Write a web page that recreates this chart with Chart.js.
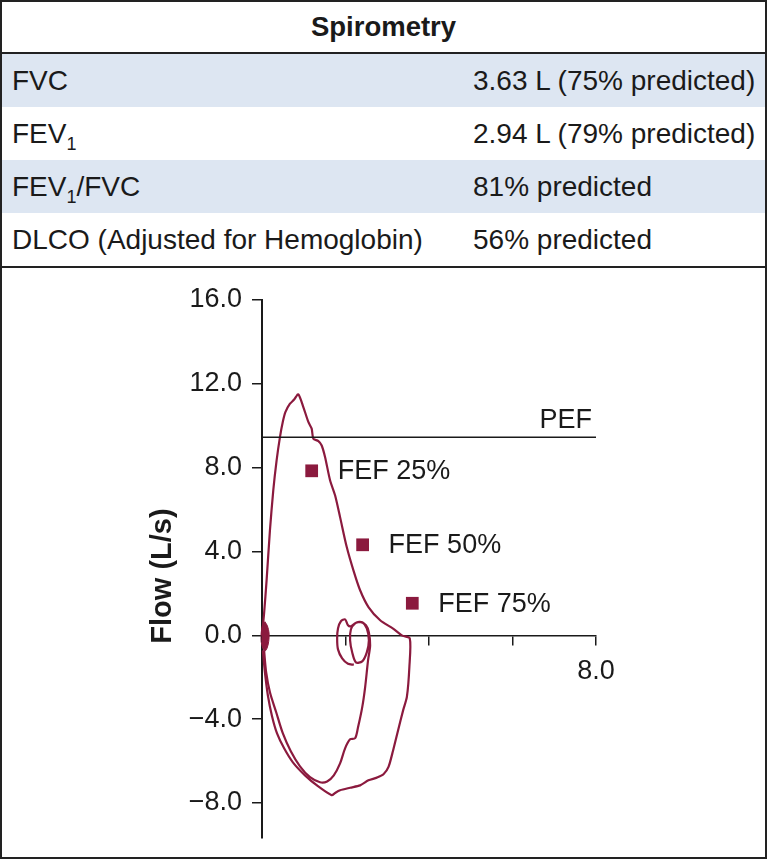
<!DOCTYPE html>
<html>
<head>
<meta charset="utf-8">
<script src="https://cdn.jsdelivr.net/npm/chart.js@4/dist/chart.umd.min.js"></script>
<style>
html,body{margin:0;padding:0;background:#fff;}
#frame{position:relative;width:767px;height:859px;box-sizing:border-box;border:2px solid #222;font-family:"Liberation Sans",Arial,Helvetica,sans-serif;color:#1a1a1a;overflow:hidden;background:#fff;}
.hdr{position:absolute;left:0;top:0;width:763px;height:50px;border-bottom:2px solid #222;text-align:center;font-weight:bold;font-size:27.5px;line-height:50px;}
.row{position:absolute;left:0;width:763px;height:53px;font-size:28px;line-height:53px;white-space:nowrap;}
.row.alt{background:#dde6f2;}
.c1{position:absolute;left:10px;top:0;}
.c2{position:absolute;left:471px;top:0;}
sub{font-size:18px;line-height:0;vertical-align:-7px;}
#tblEnd{position:absolute;left:0;top:264px;width:763px;height:2px;background:#222;}
#chartBox{position:absolute;left:0;top:266px;width:763px;height:589px;}
</style>
</head>
<body>
<div id="frame">
  <div class="hdr" id="hdr"></div>
  <div id="rows"></div>
  <div id="tblEnd"></div>
  <div id="chartBox"><canvas id="c" width="763" height="589"></canvas></div>
</div>
<script>
// ---------- table data ----------
const tableTitle = 'Spirometry';
const rowLabels = ['FVC', 'FEV<sub>1</sub>', 'FEV<sub>1</sub>/FVC', 'DLCO (Adjusted for Hemoglobin)'];
const rowValues = ['3.63 L (75% predicted)', '2.94 L (79% predicted)', '81% predicted', '56% predicted'];

// ---------- chart data ----------
const yTitle = 'Flow (L/s)';
const yTicks = [-8, -4, 0, 4, 8, 12, 16];
const xTicks = [0, 2, 4, 6, 8];
const xLabelled = [8];

const pefLabel = 'PEF';
const pefFlow = 9.45;

const fefNames = ['FEF 25%', 'FEF 50%', 'FEF 75%'];
const fefVolume = [1.19, 2.41, 3.60];
const fefFlow = [7.85, 4.32, 1.53];

// forced expiration followed by the outer inspiratory limb (volume L, flow L/s)
const loopVolume = [0.00, 0.05, 0.11, 0.19, 0.27, 0.35, 0.43, 0.50, 0.56, 0.67, 0.77, 0.87,
  0.99, 1.11, 1.19, 1.23, 1.35, 1.43, 1.51, 1.63, 1.75, 1.87, 2.03, 2.19, 2.35, 2.55, 2.83, 3.14, 3.35, 3.54,
  3.53, 3.47, 3.38, 3.26, 3.14, 3.03, 2.91, 2.75, 2.55, 2.35, 2.11, 1.87, 1.75, 1.67,
  1.34, 1.03, 0.74, 0.53, 0.36, 0.24, 0.14, 0.07, 0.02];
const loopFlow = [0.00, 1.05, 2.62, 5.01, 6.92, 8.35, 9.46, 10.20, 10.65, 11.05, 11.25, 11.50,
  10.89, 10.18, 9.86, 9.38, 9.27, 9.06, 8.51, 7.40, 6.68, 5.64, 4.21, 3.10, 2.15, 1.35, 0.72, 0.32, 0.00, -0.15,
  -1.51, -2.94, -3.58, -4.53, -5.49, -6.28, -6.63, -6.79, -6.92, -7.16, -7.27, -7.39, -7.52, -7.63,
  -7.20, -6.68, -6.06, -5.39, -4.68, -3.86, -2.86, -1.77, -0.72];

// second inspiratory limb with the small tidal loops
const innerVolume = [0.05, 0.10, 0.19, 0.34, 0.50, 0.69, 0.91, 1.15, 1.39, 1.56, 1.72, 1.87, 1.99, 2.11, 2.23, 2.30, 2.40, 2.47, 2.54,
  2.59, 2.56, 2.49, 2.35, 2.23, 2.13, 2.11, 2.16, 2.25, 2.40, 2.51, 2.56, 2.51, 2.40, 2.25, 2.13, 2.06, 1.99, 1.89, 1.82, 1.80, 1.82, 1.92, 2.06, 2.20];
const innerFlow = [-0.72, -1.77, -2.72, -3.67, -4.68, -5.53, -6.25, -6.77, -7.01, -6.97, -6.68, -6.11, -5.39, -4.96, -4.91, -4.39, -3.44, -2.48, -1.19,
  -0.48, 0.14, 0.48, 0.64, 0.57, 0.29, -0.24, -0.81, -1.29, -1.24, -0.81, -0.24, 0.33, 0.62, 0.60, 0.43, 0.48, 0.76, 0.67, 0.33, -0.14, -0.67, -1.10, -1.36, -1.40];

// dense tidal breathing at the start (outline of the filled blob)
const tidalVolume = [0.07, 0.13, 0.17, 0.16, 0.12, 0.07, 0.02, -0.02, -0.02, 0.01, 0.07];
const tidalFlow = [0.65, 0.45, 0.10, -0.30, -0.62, -0.75, -0.62, -0.30, 0.10, 0.45, 0.65];

// ---------- build table ----------
document.getElementById('hdr').textContent = tableTitle;
const rowsEl = document.getElementById('rows');
rowLabels.forEach((lab, i) => {
  const r = document.createElement('div');
  r.className = 'row' + (i % 2 === 0 ? ' alt' : '');
  r.style.top = (52 + i * 53) + 'px';
  const a = document.createElement('span'); a.className = 'c1'; a.innerHTML = lab;
  const b = document.createElement('span'); b.className = 'c2'; b.textContent = rowValues[i];
  r.appendChild(a); r.appendChild(b);
  rowsEl.appendChild(r);
});

// ---------- chart ----------
const MAROON = '#8b1a3e';
const INK = '#1a1a1a';
const FONT = '"Liberation Sans", Arial, Helvetica, sans-serif';
Chart.defaults.font.family = FONT;
Chart.defaults.color = INK;

function pts(xs, ys) { return xs.map((x, i) => ({ x: x, y: ys[i] })); }

const labelPlugin = {
  id: 'annot',
  afterDatasetsDraw(chart) {
    const { ctx, scales, chartArea } = chart;
    const xs = scales.x, ys = scales.y;
    ctx.save();
    ctx.fillStyle = INK;
    ctx.font = '27px ' + FONT;
    ctx.textAlign = 'right';
    ctx.textBaseline = 'alphabetic';
    ctx.fillText(pefLabel, xs.getPixelForValue(xs.max) - 4, ys.getPixelForValue(pefFlow) - 9);
    ctx.textAlign = 'left';
    ctx.textBaseline = 'middle';
    fefNames.forEach((n, i) => {
      ctx.fillText(n, xs.getPixelForValue(fefVolume[i]) + 26, ys.getPixelForValue(fefFlow[i]) + 1);
    });
    ctx.font = 'bold 29px ' + FONT;
    ctx.translate(chartArea.left - 99, (chartArea.top + chartArea.bottom) / 2 + 7);
    ctx.rotate(-Math.PI / 2);
    ctx.textAlign = 'center';
    ctx.fillText(yTitle, 0, 0);
    ctx.restore();
  }
};

new Chart(document.getElementById('c'), {
  type: 'scatter',
  data: {
    datasets: [
      { label: 'PEF', data: [{ x: 0, y: pefFlow }, { x: 8, y: pefFlow }], showLine: true,
        borderColor: INK, borderWidth: 1.5, pointRadius: 0 },
      { label: 'tidal', data: pts(tidalVolume, tidalFlow), showLine: true, fill: 'shape',
        backgroundColor: MAROON, borderColor: MAROON, borderWidth: 1, pointRadius: 0, tension: 0.3, clip: false },
      { label: 'loop', data: pts(loopVolume, loopFlow), showLine: true,
        borderColor: MAROON, borderWidth: 2.2, pointRadius: 0, tension: 0.25, clip: false },
      { label: 'inner', data: pts(innerVolume, innerFlow), showLine: true,
        borderColor: MAROON, borderWidth: 2.2, pointRadius: 0, tension: 0.3, clip: false },
      { label: 'FEF', data: pts(fefVolume, fefFlow), pointStyle: 'rect', pointRadius: 9,
        backgroundColor: MAROON, borderColor: MAROON, borderWidth: 0 }
    ]
  },
  options: {
    responsive: false,
    animation: false,
    devicePixelRatio: 1,
    layout: { padding: { top: 32, right: 169, bottom: 19, left: 0 } },
    plugins: { legend: { display: false }, tooltip: { enabled: false } },
    scales: {
      x: {
        type: 'linear', position: { y: 0 }, min: 0, max: 8,
        afterBuildTicks: s => { s.ticks = xTicks.map(v => ({ value: v })); },
        ticks: { callback: v => xLabelled.includes(v) ? v.toFixed(1) : '', font: { size: 27 }, color: INK,
                 padding: 11, maxRotation: 0, autoSkip: false },
        grid: { drawOnChartArea: false, drawTicks: true, tickLength: 9, color: INK, lineWidth: 1.5 },
        border: { display: true, color: INK, width: 1.5 }
      },
      y: {
        type: 'linear', position: 'left', min: -9.67, max: 16,
        afterBuildTicks: s => { s.ticks = yTicks.map(v => ({ value: v })); },
        afterFit: s => { s.width = 260; s.paddingTop = 0; s.paddingBottom = 0; },
        ticks: { callback: v => (v < 0 ? '\u2212' : '') + Math.abs(v).toFixed(1), font: { size: 27 }, color: INK,
                 padding: 10, autoSkip: false },
        grid: { drawOnChartArea: false, drawTicks: true, tickLength: 10, color: INK, lineWidth: 1.5 },
        border: { display: true, color: INK, width: 2 }
      }
    }
  },
  plugins: [labelPlugin]
});
</script>
</body>
</html>
